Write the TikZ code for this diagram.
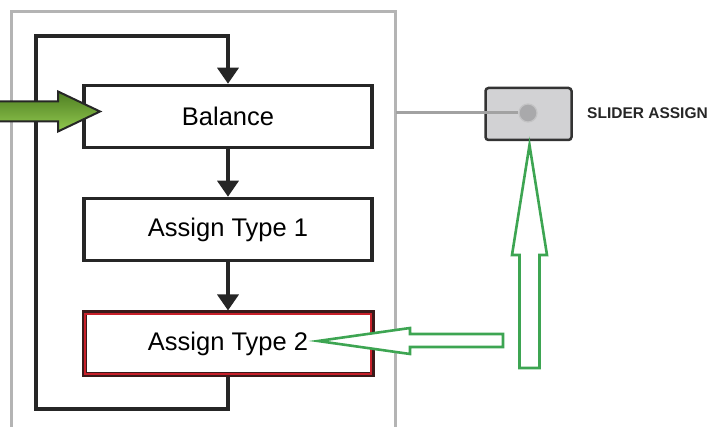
\documentclass[tikz,border=0pt]{standalone}
\usepackage{fontspec}
\setmainfont{Liberation Sans}
\usetikzlibrary{arrows.meta}
\definecolor{framegray}{HTML}{B4B4B4}
\definecolor{hollowgreen}{HTML}{3DA552}
\definecolor{darkgreen}{HTML}{4E7E22}
\definecolor{lightgreen}{HTML}{92C94F}
\definecolor{sliderfill}{HTML}{D2D2D4}
\definecolor{knob}{HTML}{A9A9AB}
\definecolor{boxred}{HTML}{C8202A}
\definecolor{boxdark}{HTML}{3A1A1A}
\tikzset{
  flowbox/.style={draw=black!85, line width=3.5pt, fill=white, minimum width=288pt, minimum height=62pt, inner sep=0pt, font=\fontsize{25.5}{30}\selectfont},
  flowarrow/.style={draw=black!85, line width=3.5pt, -{Triangle[width=21pt,length=16pt]}},
  hollow/.style={draw=hollowgreen, line width=2.6pt, fill=white, line join=miter},
}
\begin{document}
\begin{tikzpicture}[x=1pt,y=-1pt]
\useasboundingbox (0,0) rectangle (713,427);
% outer frame (open at the bottom)
\draw[framegray, line width=3pt] (11,430) -- (11,12) -- (395,12) -- (395,430);
% boxes
\node[flowbox] (balance) at (228,116.5) {Balance};
\node[flowbox] (type1) at (228,229.5) {Assign Type 1};
\node[flowbox, draw=boxdark, line width=5pt] (type2) at (228,344) {};
\draw[boxred, line width=2.5pt] ([shift={(3.5,-3.5)}]type2.south west) rectangle ([shift={(-3.5,3.5)}]type2.north east);
\node[font=\fontsize{25.5}{30}\selectfont] (type2text) at (type2.center) {Assign Type 2};
% flow arrows
\draw[flowarrow] (balance.south) -- (type1.north);
\draw[flowarrow] (type1.south) -- (type2.north);
% loop
\coordinate (loopbl) at (36,409);
\coordinate (looptl) at (36,36);
\draw[flowarrow] (type2.south) |- (loopbl) -- (looptl) -| (balance.north);
% slider
\node[draw=black!80, line width=2.5pt, fill=sliderfill, rounded corners=3pt, minimum width=86pt, minimum height=52pt, inner sep=0pt] (slider) at (528.5,114) {};
\node[circle, fill=knob, draw=knob!70!white, line width=1.2pt, minimum size=18pt, inner sep=0pt] (knobc) at (528,113) {};
\coordinate (frameright) at (396,113);
\draw[framegray!90!black, line width=3pt] (frameright) -- (knobc.west);
\node[font=\bfseries\fontsize{15.5}{18}\selectfont, anchor=west, text=black!85, inner sep=0pt] (label) at (587,113) {SLIDER ASSIGN};
% green input arrow on the left
\draw[line width=2pt, draw=black!85, top color=darkgreen, bottom color=lightgreen, line join=miter]
  (-5,101.5) -- (58,101.5) -- (58,91.5) -- (100,111.5) -- (58,131.5) -- (58,121.5) -- (-5,121.5) -- cycle;
% hollow vertical arrow
\draw[hollow] (529.5,145) -- (547,255) -- (539.5,255) -- (539.5,368) -- (519.5,368) -- (519.5,255) -- (512,255) -- cycle;
% hollow horizontal arrow
\draw[hollow] (318,341) -- (410,328) -- (410,334) -- (503,334) -- (503,347) -- (410,347) -- (410,354) -- cycle;
\end{tikzpicture}
\end{document}
